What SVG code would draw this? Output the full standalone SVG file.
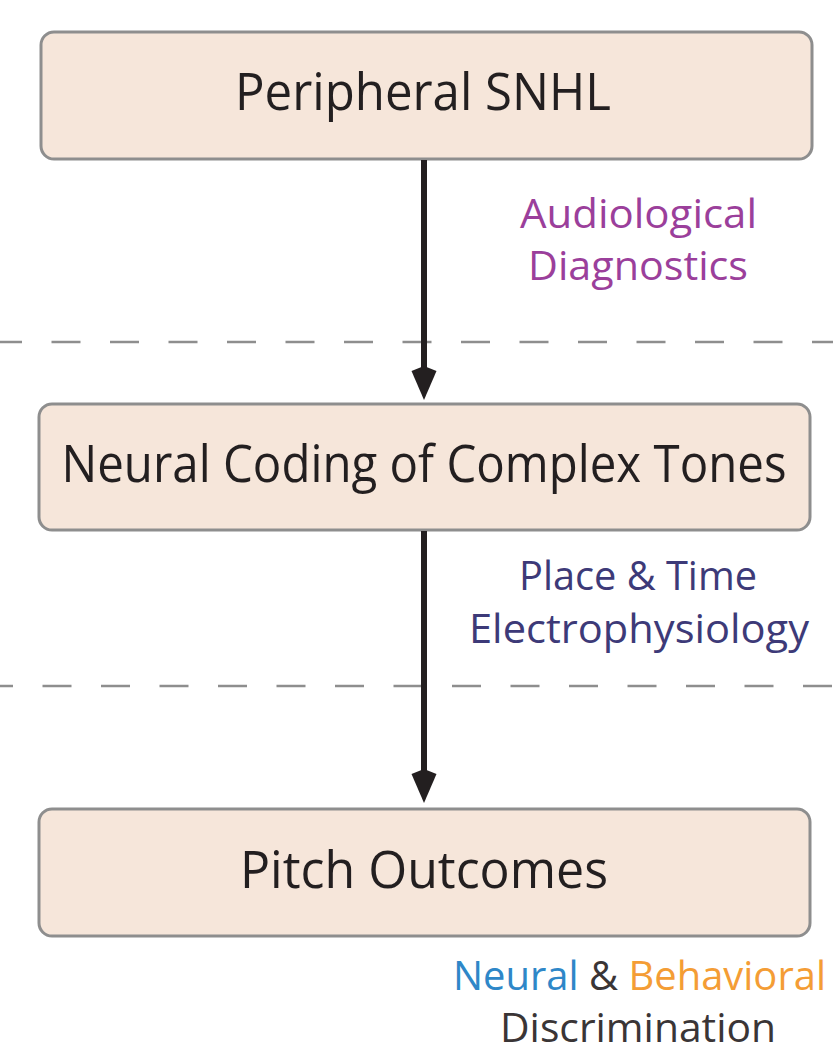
<svg xmlns="http://www.w3.org/2000/svg" xmlns:xlink="http://www.w3.org/1999/xlink" width="833" height="1062" viewBox="0 0 833 1062">
<style>
.box{fill:#f6e6da;stroke:#8e8e8e;stroke-width:3}
.main{font-family:"Open Sans","Liberation Sans",sans-serif;font-size:51px;fill:#231f20;text-anchor:middle}
.lbl{font-family:"Open Sans","Liberation Sans",sans-serif;font-size:41px;text-anchor:middle}
.dash{stroke:#8e8e8e;stroke-width:2.5;stroke-dasharray:29 29.5;fill:none}
.shaft{stroke:#231f20;stroke-width:6;fill:none}
</style>
<defs>
<path id="head" d="M0,0 L-12.5,-29 L0,-34 L12.5,-29 Z" fill="#231f20"/>
</defs>
<g id="separators">
<line class="dash" x1="0" y1="342" x2="833" y2="342" stroke-dashoffset="7"/>
<line class="dash" x1="0" y1="686" x2="833" y2="686" stroke-dashoffset="16"/>
</g>
<g id="node-peripheral">
<rect class="box" x="41" y="32" width="771" height="127" rx="13"/>
<text class="main" x="423" y="110" textLength="376" lengthAdjust="spacingAndGlyphs">Peripheral SNHL</text>
</g>
<g id="node-neural">
<rect class="box" x="39" y="404" width="771" height="126" rx="13"/>
<text class="main" x="424" y="482" textLength="725" lengthAdjust="spacingAndGlyphs">Neural Coding of Complex Tones</text>
</g>
<g id="node-pitch">
<rect class="box" x="39" y="809" width="771" height="127" rx="13"/>
<text class="main" x="424" y="888" textLength="368" lengthAdjust="spacingAndGlyphs">Pitch Outcomes</text>
</g>
<g id="connectors">
<line class="shaft" x1="424" y1="160" x2="424" y2="372"/>
<use xlink:href="#head" href="#head" x="424" y="400"/>
<line class="shaft" x1="424" y1="531" x2="424" y2="775"/>
<use xlink:href="#head" href="#head" x="424" y="803"/>
</g>
<g id="label-audiological">
<text class="lbl" fill="#9b3f9b" x="638.5" y="228" textLength="237" lengthAdjust="spacingAndGlyphs">Audiological</text>
<text class="lbl" fill="#9b3f9b" x="638" y="280" textLength="220" lengthAdjust="spacingAndGlyphs">Diagnostics</text>
</g>
<g id="label-electro">
<text class="lbl" fill="#3d3a78" x="638" y="590" textLength="238" lengthAdjust="spacingAndGlyphs">Place &amp; Time</text>
<text class="lbl" fill="#3d3a78" x="639" y="643" textLength="340" lengthAdjust="spacingAndGlyphs">Electrophysiology</text>
</g>
<g id="label-discrimination">
<text class="lbl" x="639.5" y="990" textLength="373" lengthAdjust="spacingAndGlyphs"><tspan fill="#2e87c8">Neural</tspan><tspan fill="#3a3536"> &amp; </tspan><tspan fill="#f49d35">Behavioral</tspan></text>
<text class="lbl" fill="#3a3536" x="638" y="1042" textLength="276" lengthAdjust="spacingAndGlyphs">Discrimination</text>
</g>
</svg>
